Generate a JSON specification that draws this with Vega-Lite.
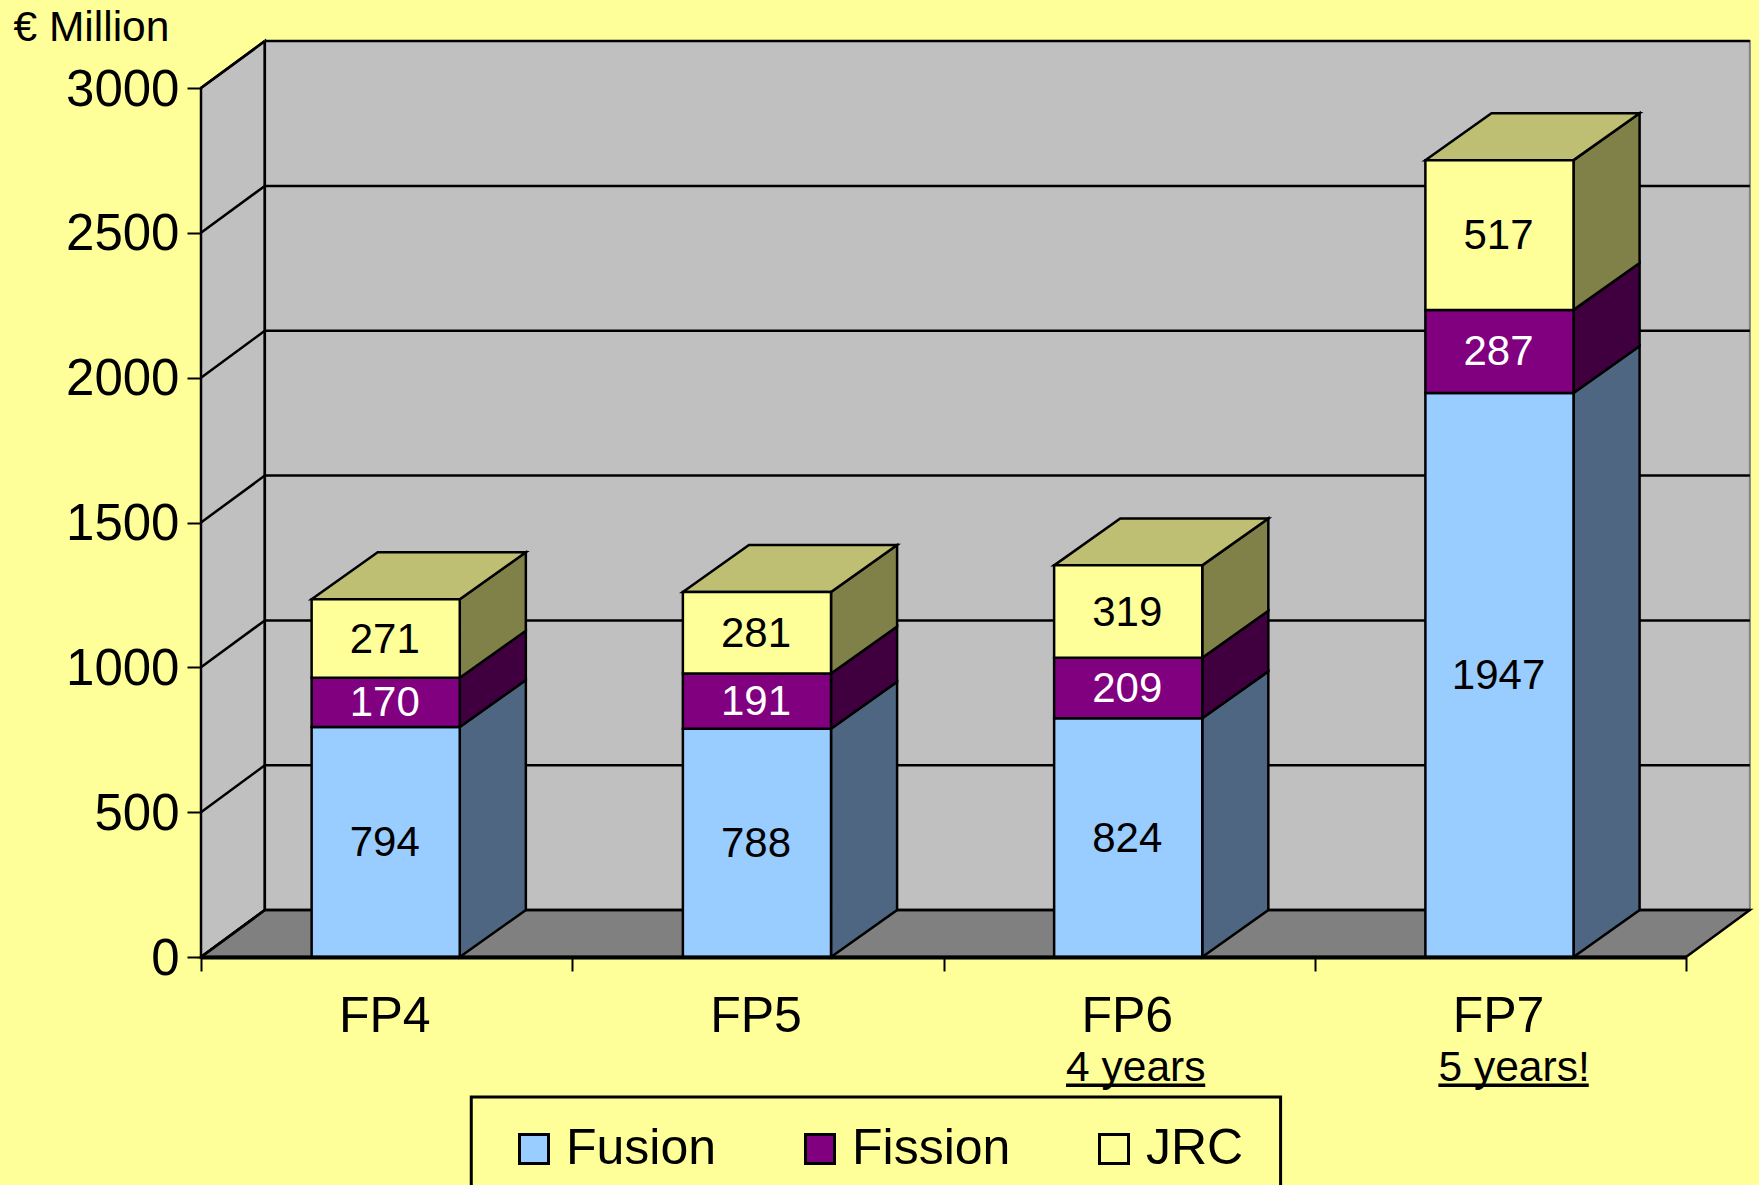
{
"$schema":"https://vega.github.io/schema/vega-lite/v6.json",
"width":1485,"height":869,
"autosize":{"type":"none"},
"padding":{"left":201,"top":88,"right":73,"bottom":228},
"background":"#FFFF99",
"config":{"view":{"stroke":null},"font":"Liberation Sans"},
"datasets":{
"segments":[
{"fp":"FP4","series":"Fusion","value":794},{"fp":"FP4","series":"Fission","value":170},{"fp":"FP4","series":"JRC","value":271},
{"fp":"FP5","series":"Fusion","value":788},{"fp":"FP5","series":"Fission","value":191},{"fp":"FP5","series":"JRC","value":281},
{"fp":"FP6","series":"Fusion","value":824},{"fp":"FP6","series":"Fission","value":209},{"fp":"FP6","series":"JRC","value":319},
{"fp":"FP7","series":"Fusion","value":1947},{"fp":"FP7","series":"Fission","value":287},{"fp":"FP7","series":"JRC","value":517}
],
"ticks":[{"v":0},{"v":500},{"v":1000},{"v":1500},{"v":2000},{"v":2500},{"v":3000}],
"notes":[{"note":"4 years","center":2.518,"from":2.33,"to":2.705},{"note":"5 years!","center":3.537,"from":3.333,"to":3.738}]
},
"transform":[],
"layer":[
{"data":{"name":"ticks"},
 "transform":[{"filter":"datum.v===0"},{"calculate":"[0,1]","as":"t"},{"flatten":["t"]},{"calculate":"datum.t*0.172","as":"px"},{"calculate":"datum.t*162","as":"lo"},{"calculate":"3000+datum.t*162","as":"hi"}],
 "mark":{"type":"area","fill":"#C0C0C0","stroke":"#000","strokeWidth":2.5},
 "encoding":{"x":{"field":"px","type":"quantitative","scale":{"domain":[0,4],"nice":false,"zero":false},
   "axis":{"values":[0,1,2,3,4],"labels":false,"title":null,"grid":false,"ticks":true,"tickSize":14,"tickWidth":2,"tickColor":"#000","domain":true,"domainColor":"#000","domainWidth":4,"orient":"bottom","zindex":1}},
  "y":{"field":"lo","type":"quantitative","stack":false,"scale":{"domain":[0,3000],"nice":false,"zero":false},
   "axis":{"values":[0,500,1000,1500,2000,2500,3000],"format":"d","orient":"left","grid":false,"domain":false,"tickSize":14,"tickWidth":2,"tickColor":"#000","labelFontSize":51,"labelColor":"#000","labelPadding":8,"labelOffset":2,"labelFont":"Liberation Sans","title":"€ Million","titleFontSize":42.5,"titleFontWeight":"normal","titleFont":"Liberation Sans","titleColor":"#000","titleAngle":0,"titleAlign":"left","titleBaseline":"middle","titleX":-188,"titleY":-61}},
  "y2":{"field":"hi"}}},
{"data":{"name":"ticks"},"transform":[{"filter":"datum.v===0"}],
 "mark":{"type":"rect","fill":"#C0C0C0","stroke":"#808080","strokeWidth":2},
 "encoding":{"x":{"datum":0.172,"type":"quantitative","scale":{"domain":[0,4],"nice":false,"zero":false}},"x2":{"datum":4.172},
  "y":{"datum":162,"type":"quantitative","scale":{"domain":[0,3000],"nice":false,"zero":false}},"y2":{"datum":3162}}},
{"data":{"name":"ticks"},"transform":[{"filter":"datum.v===0"},{"calculate":"[0,1,2,3]","as":"t"},{"flatten":["t"]},
  {"calculate":"[0,0.172,4,4.172][datum.t]","as":"px"},{"calculate":"datum.t===3?162:0","as":"lo"},{"calculate":"datum.t===0?0:162","as":"hi"}],
 "mark":{"type":"area","fill":"#808080","stroke":"#000","strokeWidth":2.5},
 "encoding":{"x":{"field":"px","type":"quantitative","scale":{"domain":[0,4],"nice":false,"zero":false}},
  "y":{"field":"lo","type":"quantitative","stack":false,"scale":{"domain":[0,3000],"nice":false,"zero":false}},"y2":{"field":"hi"}}},
{"data":{"name":"ticks"},"transform":[{"calculate":"datum.v+162","as":"back"}],
 "mark":{"type":"rule","stroke":"#000","strokeWidth":2.5},
 "encoding":{"x":{"datum":0.172,"type":"quantitative","scale":{"domain":[0,4],"nice":false,"zero":false}},"x2":{"datum":4.172},
  "y":{"field":"back","type":"quantitative","scale":{"domain":[0,3000],"nice":false,"zero":false}}}},
{"data":{"name":"ticks"},"transform":[{"calculate":"[0,1]","as":"t"},{"flatten":["t"]},{"calculate":"datum.t*0.172","as":"px"},{"calculate":"datum.v+datum.t*162","as":"py"}],
 "mark":{"type":"line","stroke":"#000","strokeWidth":2.5},
 "encoding":{"x":{"field":"px","type":"quantitative","scale":{"domain":[0,4],"nice":false,"zero":false}},
  "y":{"field":"py","type":"quantitative","scale":{"domain":[0,3000],"nice":false,"zero":false}},"detail":{"field":"v"}}},
{"data":{"name":"ticks"},"transform":[{"filter":"datum.v===0"}],
 "mark":{"type":"rule","stroke":"#000","strokeWidth":2.5},
 "encoding":{"x":{"datum":0.172,"type":"quantitative","scale":{"domain":[0,4],"nice":false,"zero":false}},
  "y":{"datum":162,"type":"quantitative","scale":{"domain":[0,3000],"nice":false,"zero":false}},"y2":{"datum":3162}}},
{"data":{"name":"segments"},
 "transform":[{"calculate":"indexof(['Fusion','Fission','JRC'],datum.series)","as":"rank"},{"stack":"value","groupby":["fp"],"sort":[{"field":"rank","order":"ascending"}],"as":["base","top"]},
  {"calculate":"indexof(['FP4','FP5','FP6','FP7'],datum.fp)","as":"idx"},{"calculate":"[0,1]","as":"t"},{"flatten":["t"]},
  {"calculate":"datum.idx+0.697+datum.t*0.178","as":"px"},{"calculate":"datum.base+datum.t*162","as":"lo"},{"calculate":"datum.top+datum.t*162","as":"hi"}],
 "mark":{"type":"area","stroke":"#000","strokeWidth":2.5},
 "encoding":{"x":{"field":"px","type":"quantitative","scale":{"domain":[0,4],"nice":false,"zero":false}},
  "y":{"field":"lo","type":"quantitative","stack":false,"scale":{"domain":[0,3000],"nice":false,"zero":false}},"y2":{"field":"hi"},
  "fill":{"field":"series","type":"nominal","legend":null,"scale":{"domain":["Fusion","Fission","JRC"],"range":["#4F6682","#400040","#808049"]}},
  "detail":{"field":"fp"}}},
{"data":{"name":"segments"},
 "transform":[{"joinaggregate":[{"op":"sum","field":"value","as":"total"}],"groupby":["fp"]},{"filter":"datum.series==='JRC'"},
  {"calculate":"indexof(['FP4','FP5','FP6','FP7'],datum.fp)","as":"idx"},{"calculate":"[0,1,2,3]","as":"t"},{"flatten":["t"]},
  {"calculate":"datum.idx+0.298+[0,0.178,0.399,0.577][datum.t]","as":"px"},{"calculate":"datum.total+(datum.t===3?162:0)","as":"lo"},{"calculate":"datum.total+(datum.t===0?0:162)","as":"hi"}],
 "mark":{"type":"area","fill":"#BFBF73","stroke":"#000","strokeWidth":2.5},
 "encoding":{"x":{"field":"px","type":"quantitative","scale":{"domain":[0,4],"nice":false,"zero":false}},
  "y":{"field":"lo","type":"quantitative","stack":false,"scale":{"domain":[0,3000],"nice":false,"zero":false}},"y2":{"field":"hi"},"detail":{"field":"fp"}}},
{"data":{"name":"segments"},
 "transform":[{"calculate":"indexof(['Fusion','Fission','JRC'],datum.series)","as":"rank"},{"stack":"value","groupby":["fp"],"sort":[{"field":"rank","order":"ascending"}],"as":["base","top"]},
  {"calculate":"indexof(['FP4','FP5','FP6','FP7'],datum.fp)","as":"idx"},{"calculate":"datum.idx+0.298","as":"left"},{"calculate":"datum.idx+0.697","as":"right"}],
 "mark":{"type":"rect","stroke":"#000","strokeWidth":2.5},
 "encoding":{"x":{"field":"left","type":"quantitative","scale":{"domain":[0,4],"nice":false,"zero":false}},"x2":{"field":"right"},
  "y":{"field":"base","type":"quantitative","scale":{"domain":[0,3000],"nice":false,"zero":false}},"y2":{"field":"top"},
  "color":{"field":"series","type":"nominal","scale":{"domain":["Fusion","Fission","JRC"],"range":["#99CCFF","#800080","#FFFF99"]},
   "legend":{"orient":"none","direction":"horizontal","legendX":308,"legendY":1036,"title":null,"symbolType":"square","symbolSize":841,"symbolStrokeColor":"#000","symbolStrokeWidth":3,"labelFontSize":50,"labelFont":"Liberation Sans","labelColor":"#000","labelOffset":7,"columnPadding":78,"padding":0,"labelLimit":300,"values":["Fusion","Fission","JRC"]}}}},
{"data":{"name":"segments"},
 "transform":[{"calculate":"indexof(['Fusion','Fission','JRC'],datum.series)","as":"rank"},{"stack":"value","groupby":["fp"],"sort":[{"field":"rank","order":"ascending"}],"as":["base","top"]},
  {"calculate":"indexof(['FP4','FP5','FP6','FP7'],datum.fp)+0.495","as":"cx"},{"calculate":"(datum.base+datum.top)/2","as":"mid"}],
 "mark":{"type":"text","fontSize":42,"font":"Liberation Sans","baseline":"middle","align":"center","dy":1},
 "encoding":{"x":{"field":"cx","type":"quantitative","scale":{"domain":[0,4],"nice":false,"zero":false}},
  "y":{"field":"mid","type":"quantitative","scale":{"domain":[0,3000],"nice":false,"zero":false}},
  "text":{"field":"value","type":"quantitative"},
  "fill":{"condition":{"test":"datum.series==='Fission'","value":"#FFFFFF"},"value":"#000000"}}},
{"data":{"name":"segments"},
 "transform":[{"filter":"datum.series==='JRC'"},{"calculate":"indexof(['FP4','FP5','FP6','FP7'],datum.fp)+0.495","as":"cx"}],
 "mark":{"type":"text","fontSize":50,"font":"Liberation Sans","baseline":"middle","align":"center","fill":"#000"},
 "encoding":{"x":{"field":"cx","type":"quantitative","scale":{"domain":[0,4],"nice":false,"zero":false}},
  "y":{"datum":-208,"type":"quantitative","scale":{"domain":[0,3000],"nice":false,"zero":false}},
  "text":{"field":"fp","type":"nominal"}}},
{"data":{"name":"notes"},
 "mark":{"type":"text","fontSize":42.5,"font":"Liberation Sans","baseline":"middle","align":"center","fill":"#000"},
 "encoding":{"x":{"field":"center","type":"quantitative","scale":{"domain":[0,4],"nice":false,"zero":false}},
  "y":{"datum":-382,"type":"quantitative","scale":{"domain":[0,3000],"nice":false,"zero":false}},
  "text":{"field":"note","type":"nominal"}}},
{"data":{"name":"notes"},
 "mark":{"type":"rule","stroke":"#000","strokeWidth":3.5},
 "encoding":{"x":{"field":"from","type":"quantitative","scale":{"domain":[0,4],"nice":false,"zero":false}},"x2":{"field":"to"},
  "y":{"datum":-443,"type":"quantitative","scale":{"domain":[0,3000],"nice":false,"zero":false}}}},
{"data":{"name":"ticks"},"transform":[{"filter":"datum.v===0"}],
 "mark":{"type":"rect","fill":"#FFFF99","stroke":"#000","strokeWidth":3},
 "encoding":{"x":{"datum":0.728,"type":"quantitative","scale":{"domain":[0,4],"nice":false,"zero":false}},"x2":{"datum":2.908},
  "y":{"datum":-483,"type":"quantitative","scale":{"domain":[0,3000],"nice":false,"zero":false}},"y2":{"datum":-900}}}
],
"resolve":{"scale":{"fill":"independent"}}
}
